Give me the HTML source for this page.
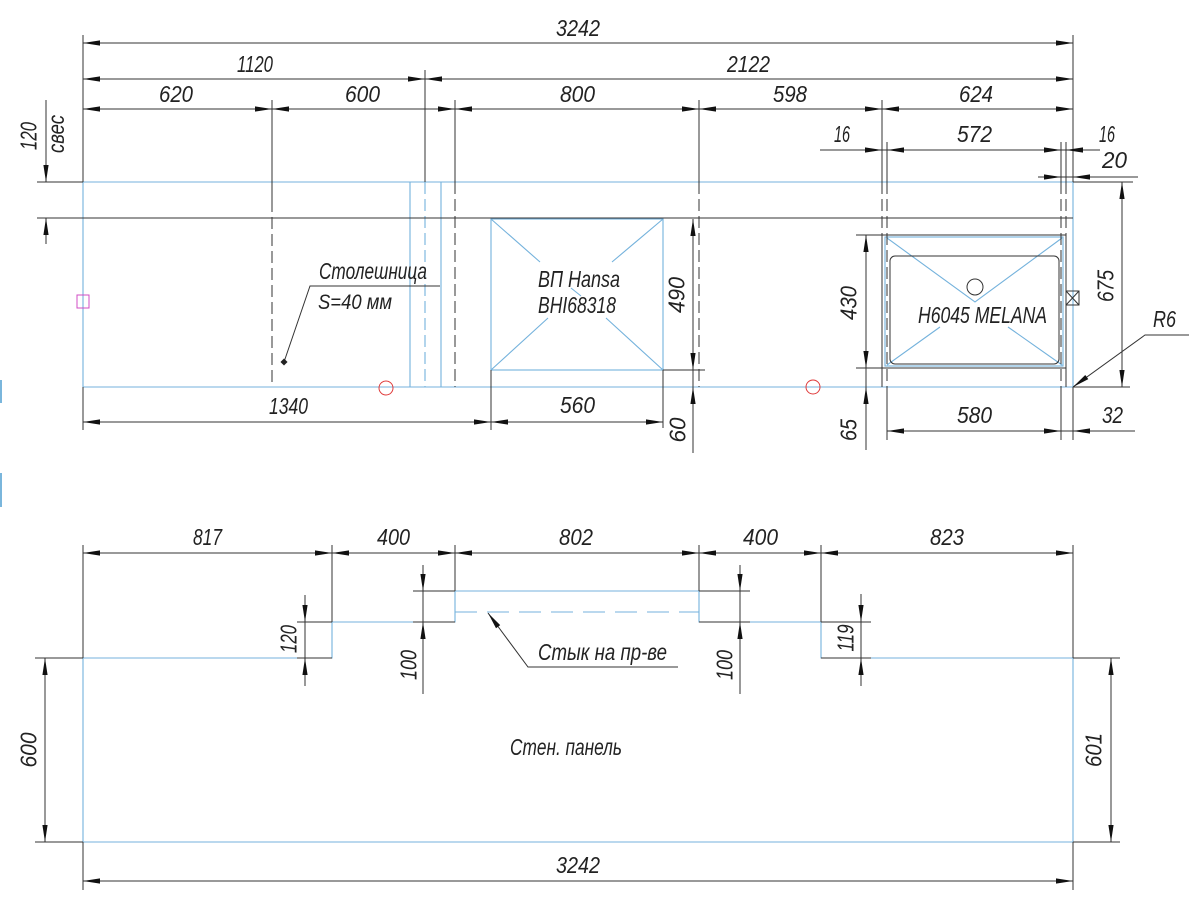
<!DOCTYPE html>
<html><head><meta charset="utf-8"><style>
html,body{margin:0;padding:0;background:#fff;}
svg{display:block;}
text{font-family:"Liberation Sans","DejaVu Sans",sans-serif;font-style:italic;fill:#222;font-size:23px;}
</style></head><body>
<svg width="1200" height="917" viewBox="0 0 1200 917" xmlns="http://www.w3.org/2000/svg">
<defs>
<path id="a" d="M0,0 L17,-2.6 L17,2.6 Z" fill="#111"/>
</defs>
<rect width="1200" height="917" fill="#fff"/>

<rect x="0" y="380" width="2" height="23" fill="#7ab6dc"/>
<rect x="0" y="473" width="2" height="34" fill="#7ab6dc"/>

<g stroke="#74b2dc" stroke-width="1.1" fill="none">
<path d="M83,182 H1073 M83,387 H1073 M83,182 V387 M1073,182 V387"/>
<path d="M410,182 V387 M441,182 V387"/>
<path d="M425,182 V387" stroke-dasharray="12,5"/>
<rect x="491" y="219" width="172" height="151"/>
<path d="M491,219 L540,262 M663,219 L612,262 M491,370 L548,318 M663,370 L606,318 M571,288 L581,296"/>
<rect x="885" y="237" width="178" height="129"/>
<path d="M887,238 L975,302 L1062,238 M887,365 L940,327 M1062,365 L1008,327"/>
</g>

<g stroke="#74b2dc" stroke-width="1.1" fill="none">
<path d="M83,658 H332 V622 H455 V591 H699 V622 H821 V658 H1073 V842 H83 Z"/>
<path d="M455,612 H699" stroke-dasharray="22,10"/>
</g>

<g stroke="#333" stroke-width="1" fill="none">
<path d="M83,35 V182 M83,387 V430 M1073,35 V182 M1073,387 V440"/>
<path d="M83,43 H1073 M83,79 H1073 M83,109 H1073"/>
<path d="M425,70 V182"/>
<path d="M272,100 V200 M455,100 V182 M699,100 V182 M882,100 V182 M887,142 V182 M1061,142 V182 M1066,142 V182"/>
<g stroke-dasharray="12,5">
<path d="M272,200 V387 M455,182 V387 M699,182 V387 M882,182 V235 M887,182 V387 M1061,182 V387 M1066,182 V235"/>
</g>
<path d="M882,235 V387 M1066,235 V387"/>
<path d="M820,150 H1100 M1038,177 H1138"/>
<path d="M37,182 H83 M1073,182 H1133 M37,218 H1073"/>
<path d="M46,100 V182 M46,218 V244"/>
<path d="M663,370 H705 M693,219 V453 M491,370 V430 M663,370 V428 M83,422 H663"/>
<path d="M856,235 H1066 M856,368 H1066 M866,235 V450"/>
<path d="M887,387 V440 M1061,387 V440 M887,431 H1135"/>
<path d="M1122,182 V387 M1073,387 H1130"/>
<path d="M1073,387 L1145,335 H1189"/>
<path d="M284,362 L310,286 H440"/>
<rect x="890" y="256" width="169" height="108" rx="5"/>
<circle cx="975" cy="287" r="8"/>
<rect x="1066" y="291" width="13" height="14"/>
<path d="M1066,291 L1079,305 M1079,291 L1066,305"/>
</g>
<rect x="281.5" y="359.5" width="5" height="5" fill="#222" transform="rotate(45 284 362)"/>

<g fill="none" stroke-width="1">
<circle cx="386" cy="388" r="7" stroke="#e03a3a"/>
<circle cx="813" cy="387" r="7" stroke="#e03a3a"/>
<rect x="77" y="295" width="12" height="13" stroke="#d04cc4"/>
</g>

<g stroke="#333" stroke-width="1" fill="none">
<path d="M83,545 V658 M332,545 V622 M455,545 V591 M699,545 V591 M821,545 V622 M1073,545 V658"/>
<path d="M83,553 H1073"/>
<path d="M297,622 H332 M297,658 H332 M305,595 V686"/>
<path d="M413,591 H455 M413,622 H455 M423,565 V694"/>
<path d="M699,591 H750 M699,622 H750 M740,565 V694"/>
<path d="M821,622 H871 M821,658 H871 M861,594 V686"/>
<path d="M35,658 H83 M35,842 H83 M45,658 V842"/>
<path d="M1073,658 H1120 M1073,842 H1120 M1111,658 V842"/>
<path d="M83,842 V890 M1073,842 V890 M83,881 H1073"/>
<path d="M488,613 L528,667 H678"/>
</g>

<g>
<use href="#a" transform="translate(83,43)"/>
<use href="#a" transform="translate(1073,43) rotate(180)"/>
<use href="#a" transform="translate(83,79)"/>
<use href="#a" transform="translate(425,79) rotate(180)"/>
<use href="#a" transform="translate(425,79)"/>
<use href="#a" transform="translate(1073,79) rotate(180)"/>
<use href="#a" transform="translate(83,109)"/>
<use href="#a" transform="translate(272,109) rotate(180)"/>
<use href="#a" transform="translate(272,109)"/>
<use href="#a" transform="translate(455,109) rotate(180)"/>
<use href="#a" transform="translate(455,109)"/>
<use href="#a" transform="translate(699,109) rotate(180)"/>
<use href="#a" transform="translate(699,109)"/>
<use href="#a" transform="translate(882,109) rotate(180)"/>
<use href="#a" transform="translate(882,109)"/>
<use href="#a" transform="translate(1073,109) rotate(180)"/>
<use href="#a" transform="translate(882,150) rotate(180)"/>
<use href="#a" transform="translate(887,150)"/>
<use href="#a" transform="translate(1061,150) rotate(180)"/>
<use href="#a" transform="translate(1066,150)"/>
<use href="#a" transform="translate(1061,177) rotate(180)"/>
<use href="#a" transform="translate(1073,177)"/>
<use href="#a" transform="translate(46,182) rotate(-90)"/>
<use href="#a" transform="translate(46,218) rotate(90)"/>
<use href="#a" transform="translate(83,422)"/>
<use href="#a" transform="translate(491,422) rotate(180)"/>
<use href="#a" transform="translate(491,422)"/>
<use href="#a" transform="translate(663,422) rotate(180)"/>
<use href="#a" transform="translate(693,219) rotate(90)"/>
<use href="#a" transform="translate(693,370) rotate(-90)"/>
<use href="#a" transform="translate(693,387) rotate(90)"/>
<use href="#a" transform="translate(866,235) rotate(90)"/>
<use href="#a" transform="translate(866,368) rotate(-90)"/>
<use href="#a" transform="translate(866,387) rotate(90)"/>
<use href="#a" transform="translate(887,431)"/>
<use href="#a" transform="translate(1061,431) rotate(180)"/>
<use href="#a" transform="translate(1073,431)"/>
<use href="#a" transform="translate(1122,182) rotate(90)"/>
<use href="#a" transform="translate(1122,387) rotate(-90)"/>
<use href="#a" transform="translate(1073,387) rotate(-35.8)"/>

<use href="#a" transform="translate(83,553)"/>
<use href="#a" transform="translate(332,553) rotate(180)"/>
<use href="#a" transform="translate(332,553)"/>
<use href="#a" transform="translate(455,553) rotate(180)"/>
<use href="#a" transform="translate(455,553)"/>
<use href="#a" transform="translate(699,553) rotate(180)"/>
<use href="#a" transform="translate(699,553)"/>
<use href="#a" transform="translate(821,553) rotate(180)"/>
<use href="#a" transform="translate(821,553)"/>
<use href="#a" transform="translate(1073,553) rotate(180)"/>
<use href="#a" transform="translate(305,622) rotate(-90)"/>
<use href="#a" transform="translate(305,658) rotate(90)"/>
<use href="#a" transform="translate(423,591) rotate(-90)"/>
<use href="#a" transform="translate(423,622) rotate(90)"/>
<use href="#a" transform="translate(740,591) rotate(-90)"/>
<use href="#a" transform="translate(740,622) rotate(90)"/>
<use href="#a" transform="translate(861,622) rotate(-90)"/>
<use href="#a" transform="translate(861,658) rotate(90)"/>
<use href="#a" transform="translate(45,658) rotate(90)"/>
<use href="#a" transform="translate(45,842) rotate(-90)"/>
<use href="#a" transform="translate(1111,658) rotate(90)"/>
<use href="#a" transform="translate(1111,842) rotate(-90)"/>
<use href="#a" transform="translate(83,881)"/>
<use href="#a" transform="translate(1073,881) rotate(180)"/>
<use href="#a" transform="translate(488,613) rotate(53.5)"/>
</g>

<text x="556" y="36" textLength="44" lengthAdjust="spacingAndGlyphs">3242</text>
<text x="237" y="72" textLength="36" lengthAdjust="spacingAndGlyphs">1120</text>
<text x="727" y="72" textLength="43" lengthAdjust="spacingAndGlyphs">2122</text>
<text x="159" y="102" textLength="34" lengthAdjust="spacingAndGlyphs">620</text>
<text x="345" y="102" textLength="35" lengthAdjust="spacingAndGlyphs">600</text>
<text x="560" y="102" textLength="35" lengthAdjust="spacingAndGlyphs">800</text>
<text x="773" y="102" textLength="34" lengthAdjust="spacingAndGlyphs">598</text>
<text x="959" y="102" textLength="34" lengthAdjust="spacingAndGlyphs">624</text>
<text x="834" y="142" textLength="16" lengthAdjust="spacingAndGlyphs">16</text>
<text x="957" y="142" textLength="35" lengthAdjust="spacingAndGlyphs">572</text>
<text x="1099" y="142" textLength="16" lengthAdjust="spacingAndGlyphs">16</text>
<text x="1102" y="168" textLength="25" lengthAdjust="spacingAndGlyphs">20</text>

<text transform="translate(28,136) rotate(-90)" x="-14" y="8.5" textLength="28" lengthAdjust="spacingAndGlyphs">120</text>
<text transform="translate(58,134) rotate(-90)" x="-19" y="6" textLength="38" lengthAdjust="spacingAndGlyphs">свес</text>

<text x="319" y="279" textLength="108" lengthAdjust="spacingAndGlyphs">Столешница</text>
<text x="318" y="309" textLength="74" lengthAdjust="spacingAndGlyphs" style="font-size:21px">S=40 мм</text>

<text x="269" y="414" textLength="39" lengthAdjust="spacingAndGlyphs">1340</text>
<text x="560" y="413" textLength="35" lengthAdjust="spacingAndGlyphs">560</text>
<text x="538" y="287" textLength="82" lengthAdjust="spacingAndGlyphs">ВП Hansa</text>
<text x="538" y="313" textLength="78" lengthAdjust="spacingAndGlyphs">BHI68318</text>
<text transform="translate(676,295) rotate(-90)" x="-18" y="8.5" textLength="36" lengthAdjust="spacingAndGlyphs">490</text>
<text transform="translate(677,430) rotate(-90)" x="-12.5" y="8.5" textLength="25" lengthAdjust="spacingAndGlyphs">60</text>

<text transform="translate(848,303) rotate(-90)" x="-17" y="8.5" textLength="34" lengthAdjust="spacingAndGlyphs">430</text>
<text transform="translate(848,430) rotate(-90)" x="-11" y="8.5" textLength="22" lengthAdjust="spacingAndGlyphs">65</text>
<text x="957" y="423" textLength="35" lengthAdjust="spacingAndGlyphs">580</text>
<text x="1102" y="423" textLength="21" lengthAdjust="spacingAndGlyphs">32</text>
<text transform="translate(1105,286) rotate(-90)" x="-16" y="8.5" textLength="32" lengthAdjust="spacingAndGlyphs">675</text>
<text x="1153" y="327" textLength="23" lengthAdjust="spacingAndGlyphs">R6</text>
<text x="918" y="323" textLength="129" lengthAdjust="spacingAndGlyphs">H6045 MELANA</text>

<text x="193" y="545" textLength="29" lengthAdjust="spacingAndGlyphs">817</text>
<text x="377" y="545" textLength="33" lengthAdjust="spacingAndGlyphs">400</text>
<text x="559" y="545" textLength="34" lengthAdjust="spacingAndGlyphs">802</text>
<text x="743" y="545" textLength="35" lengthAdjust="spacingAndGlyphs">400</text>
<text x="930" y="545" textLength="34" lengthAdjust="spacingAndGlyphs">823</text>
<text transform="translate(288,639) rotate(-90)" x="-14" y="8.5" textLength="28" lengthAdjust="spacingAndGlyphs">120</text>
<text transform="translate(408,665) rotate(-90)" x="-15" y="8.5" textLength="30" lengthAdjust="spacingAndGlyphs">100</text>
<text transform="translate(724,665) rotate(-90)" x="-15" y="8.5" textLength="30" lengthAdjust="spacingAndGlyphs">100</text>
<text transform="translate(845,638) rotate(-90)" x="-13.5" y="8.5" textLength="27" lengthAdjust="spacingAndGlyphs">119</text>
<text x="538" y="660" textLength="129" lengthAdjust="spacingAndGlyphs">Стык на пр-ве</text>
<text x="510" y="755" textLength="112" lengthAdjust="spacingAndGlyphs">Стен. панель</text>
<text transform="translate(28,750) rotate(-90)" x="-17.5" y="8.5" textLength="35" lengthAdjust="spacingAndGlyphs">600</text>
<text transform="translate(1093,750) rotate(-90)" x="-17" y="8.5" textLength="34" lengthAdjust="spacingAndGlyphs">601</text>
<text x="556" y="873" textLength="44" lengthAdjust="spacingAndGlyphs">3242</text>
</svg>
</body></html>
